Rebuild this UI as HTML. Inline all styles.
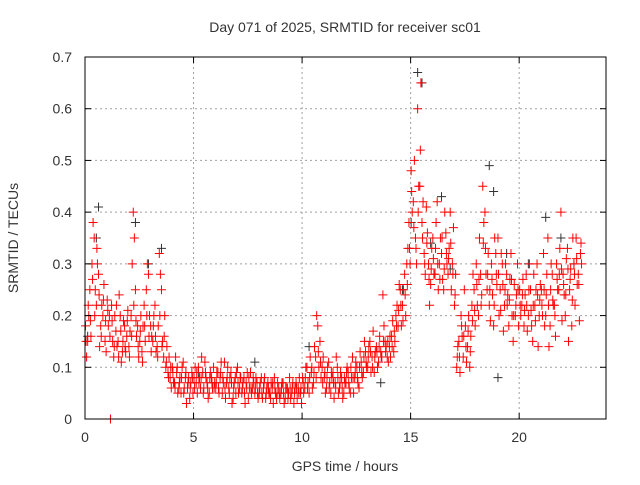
<!DOCTYPE html>
<html><head><meta charset="utf-8"><style>
html,body{margin:0;padding:0;background:#fff;}
svg text{font-family:"Liberation Sans",sans-serif;font-size:14px;fill:#333;}
</style></head><body>
<svg id="chart" width="640" height="480" xmlns="http://www.w3.org/2000/svg">
<rect x="0" y="0" width="640" height="480" fill="#fff"/>
<g id="grid"></g>
<g id="marks"></g>
<rect x="85" y="57" width="521" height="362" fill="none" stroke="#000" stroke-width="1"/>
<g id="ticks"></g>
<text x="345" y="32" text-anchor="middle">Day 071 of 2025, SRMTID for receiver sc01</text>
<text x="345" y="471" text-anchor="middle">GPS time / hours</text>
<text transform="translate(18,238) rotate(-90)" text-anchor="middle">SRMTID / TECUs</text>
</svg>
<script>
const xTicks=[0,5,10,15,20];
const yTicks=[0,0.1,0.2,0.3,0.4,0.5,0.6,0.7];
const yTickLabels=["0","0.1","0.2","0.3","0.4","0.5","0.6","0.7"];
const redA=[0.18,0.15,0.25,0.30,0.35,0.22,0.28,0.18,0.20,0.15,
0.23,0.20,0.22,0.12,0.17,0.15,0.20,0.13,0.18,0.16,
0.14,0.20,0.40,0.25,0.18,0.15,0.13,0.22,0.25,0.28,
0.18,0.15,0.22,0.14,0.32,0.25,0.12,0.10,0.09,0.08,
0.10,0.07,0.09,0.06,0.05,0.11,0.08,0.06,0.04,0.09,
0.08,0.07,0.10,0.06,0.09,0.11,0.07,0.05,0.08,0.10,
0.06,0.09,0.08,0.05,0.11,0.07,0.06,0.09,0.04,0.08,
0.10,0.06,0.05,0.08,0.07,0.04,0.09,0.06,0.05,0.07,
0.05,0.08,0.06,0.04,0.07,0.05,0.06,0.08,0.04,0.06,
0.05,0.07,0.04,0.06,0.08,0.05,0.03,0.07,0.06,0.05,
0.08,0.06,0.10,0.05,0.09,0.07,0.12,0.18,0.15,0.10,
0.08,0.06,0.11,0.05,0.09,0.07,0.10,0.06,0.08,0.05,
0.07,0.09,0.05,0.12,0.08,0.10,0.06,0.11,0.09,0.13,
0.10,0.15,0.12,0.09,0.14,0.11,0.13,0.24,0.15,0.12,
0.14,0.16,0.13,0.20,0.18,0.25,0.22,0.28,0.30,0.38,
0.48,0.42,0.35,0.60,0.45,0.38,0.32,0.41,0.30,0.26,
0.35,0.28,0.42,0.30,0.32,0.25,0.36,0.28,0.40,0.30,
0.22,0.10,0.15,0.20,0.12,0.18,0.14,0.10,0.22,0.25,
0.30,0.20,0.28,0.45,0.40,0.25,0.22,0.30,0.18,0.32,
0.35,0.25,0.30,0.22,0.28,0.18,0.32,0.15,0.20,0.30,
0.25,0.22,0.18,0.28,0.20,0.25,0.15,0.22,0.30,0.20,
0.25,0.32,0.20,0.35,0.18,0.28,0.22,0.30,0.25,0.40,
0.28,0.20,0.33,0.25,0.18,0.30,0.35,0.28,0.32];
const redB=[0.12,0.20,0.16,0.38,0.25,0.30,0.14,0.22,0.26,0.13,
0.18,0.00,0.15,0.20,0.14,0.24,0.11,0.19,0.13,0.21,
0.17,0.30,0.35,0.16,0.12,0.20,0.18,0.15,0.30,0.20,
0.16,0.20,0.13,0.18,0.28,0.15,0.20,0.14,0.12,0.06,
0.07,0.12,0.05,0.08,0.10,0.06,0.03,0.08,0.07,0.05,
0.10,0.05,0.08,0.12,0.06,0.08,0.04,0.09,0.06,0.07,
0.09,0.05,0.11,0.07,0.04,0.10,0.08,0.03,0.07,0.09,
0.05,0.08,0.07,0.03,0.09,0.06,0.05,0.07,0.08,0.04,
0.07,0.04,0.08,0.06,0.05,0.07,0.03,0.05,0.07,0.04,
0.07,0.03,0.06,0.05,0.04,0.07,0.06,0.04,0.08,0.03,
0.05,0.10,0.07,0.12,0.06,0.14,0.20,0.10,0.08,0.12,
0.05,0.10,0.07,0.08,0.04,0.12,0.05,0.09,0.04,0.07,
0.10,0.06,0.08,0.05,0.11,0.07,0.13,0.08,0.15,0.10,
0.14,0.09,0.17,0.13,0.10,0.16,0.12,0.18,0.14,0.11,
0.12,0.19,0.15,0.22,0.26,0.18,0.25,0.20,0.33,0.30,
0.40,0.50,0.30,0.45,0.65,0.42,0.28,0.36,0.22,0.33,
0.28,0.38,0.25,0.35,0.27,0.40,0.30,0.33,0.25,0.37,
0.28,0.14,0.09,0.16,0.25,0.11,0.20,0.16,0.28,0.18,
0.22,0.35,0.24,0.38,0.28,0.32,0.19,0.24,0.35,0.26,
0.20,0.32,0.17,0.30,0.24,0.27,0.20,0.26,0.24,0.18,
0.20,0.27,0.24,0.17,0.30,0.18,0.28,0.25,0.14,0.26,
0.20,0.18,0.28,0.14,0.30,0.22,0.16,0.25,0.33,0.19,
0.24,0.31,0.15,0.29,0.35,0.22,0.26,0.19,0.30];
const redC=[0.15,0.22,0.19,0.27,0.20,0.33,0.24,0.16,0.23,0.19,
0.21,0.16,0.19,0.14,0.22,0.12,0.17,0.15,0.14,0.19,
0.12,0.16,0.22,0.19,0.14,0.17,0.11,0.18,0.20,0.16,
0.13,0.18,0.16,0.12,0.20,0.14,0.16,0.11,0.08,0.10,
0.09,0.06,0.10,0.07,0.08,0.05,0.09,0.07,0.06,0.08,
0.06,0.09,0.07,0.08,0.05,0.09,0.06,0.08,0.07,0.06,
0.07,0.06,0.09,0.08,0.06,0.08,0.05,0.07,0.06,0.05,
0.07,0.08,0.06,0.05,0.06,0.08,0.06,0.08,0.06,0.05,
0.06,0.05,0.07,0.05,0.06,0.04,0.07,0.06,0.05,0.05,
0.06,0.05,0.06,0.04,0.06,0.06,0.05,0.06,0.05,0.06,
0.07,0.08,0.06,0.08,0.10,0.09,0.08,0.13,0.11,0.07,
0.09,0.08,0.06,0.09,0.07,0.06,0.08,0.07,0.06,0.08,
0.09,0.07,0.10,0.08,0.09,0.08,0.10,0.09,0.12,0.11,
0.12,0.13,0.10,0.12,0.13,0.14,0.12,0.15,0.13,0.15,
0.16,0.14,0.17,0.18,0.21,0.22,0.19,0.24,0.26,0.33,
0.44,0.37,0.33,0.40,0.52,0.35,0.30,0.34,0.27,0.29,
0.31,0.33,0.30,0.27,0.35,0.29,0.32,0.31,0.34,0.28,
0.24,0.12,0.12,0.18,0.16,0.14,0.17,0.13,0.19,0.21,
0.26,0.27,0.22,0.34,0.33,0.28,0.25,0.27,0.22,0.28,
0.28,0.21,0.26,0.25,0.22,0.23,0.27,0.20,0.22,0.25,
0.22,0.24,0.21,0.22,0.25,0.21,0.22,0.19,0.24,0.23,
0.22,0.25,0.24,0.22,0.25,0.23,0.20,0.27,0.28,0.29,
0.26,0.24,0.29,0.27,0.23,0.28,0.31,0.26,0.34];
const blackT=[0.1,0.5,0.6,2.3,2.9,3.5,5.2,7.8,10.3,12.6,13.6,14.6,15.0,15.3,15.5,15.9,16.4,16.8,18.6,18.8,19.0,19.4,20.4,21.2,21.9,22.5];
const blackV=[0.16,0.35,0.41,0.38,0.30,0.33,0.09,0.11,0.14,0.06,0.07,0.25,0.38,0.67,0.65,0.34,0.43,0.29,0.49,0.44,0.08,0.32,0.30,0.39,0.35,0.30];
const sx=t=>85+t*(521/24);
const sy=v=>419-v*(362/0.7);
const NS="http://www.w3.org/2000/svg";
const grid=document.getElementById('grid'),ticks=document.getElementById('ticks'),marks=document.getElementById('marks');
function mk(tag,attrs,parent){const e=document.createElementNS(NS,tag);for(const k in attrs)e.setAttribute(k,attrs[k]);parent.appendChild(e);return e;}
xTicks.forEach(t=>{
 const g=mk('line',{x1:sx(t),x2:sx(t),y1:57,y2:419,stroke:'#a0a0a0','stroke-dasharray':'2,3'},grid);
 
 
 mk('line',{x1:sx(t),x2:sx(t),y1:419,y2:413,stroke:'#000'},ticks);
 mk('line',{x1:sx(t),x2:sx(t),y1:57,y2:63,stroke:'#000'},ticks);
 const l=mk('text',{x:sx(t),y:442,'text-anchor':'middle'},ticks);l.textContent=t;
 
 
});
yTicks.forEach((v,i)=>{
 const g=mk('line',{x1:85,x2:606,y1:sy(v),y2:sy(v),stroke:'#a0a0a0','stroke-dasharray':'2,3'},grid);
 
 
 mk('line',{x1:85,x2:91,y1:sy(v),y2:sy(v),stroke:'#000'},ticks);
 mk('line',{x1:600,x2:606,y1:sy(v),y2:sy(v),stroke:'#000'},ticks);
 const l=mk('text',{x:72,y:sy(v)+5,'text-anchor':'end'},ticks);l.textContent=yTickLabels[i];
 
 
});
function plus(x,y,c,name){
 const p=mk('path',{d:`M${x-4},${y}h9M${x+0.5},${y-4.5}v9`,stroke:c,'stroke-width':1,fill:'none'},marks);
 
 
}
blackT.forEach((t,i)=>plus(sx(t),sy(blackV[i]),'#333','black-point'));
redA.forEach((v,i)=>plus(sx(i*0.1),sy(v),'#f00','red-point'));
redB.forEach((v,i)=>plus(sx(i*0.1+0.05),sy(v),'#f00','red-point'));
redC.forEach((v,i)=>plus(sx(i*0.1+0.025),sy(v),'#f00','red-point'));
</script>
</body></html>
